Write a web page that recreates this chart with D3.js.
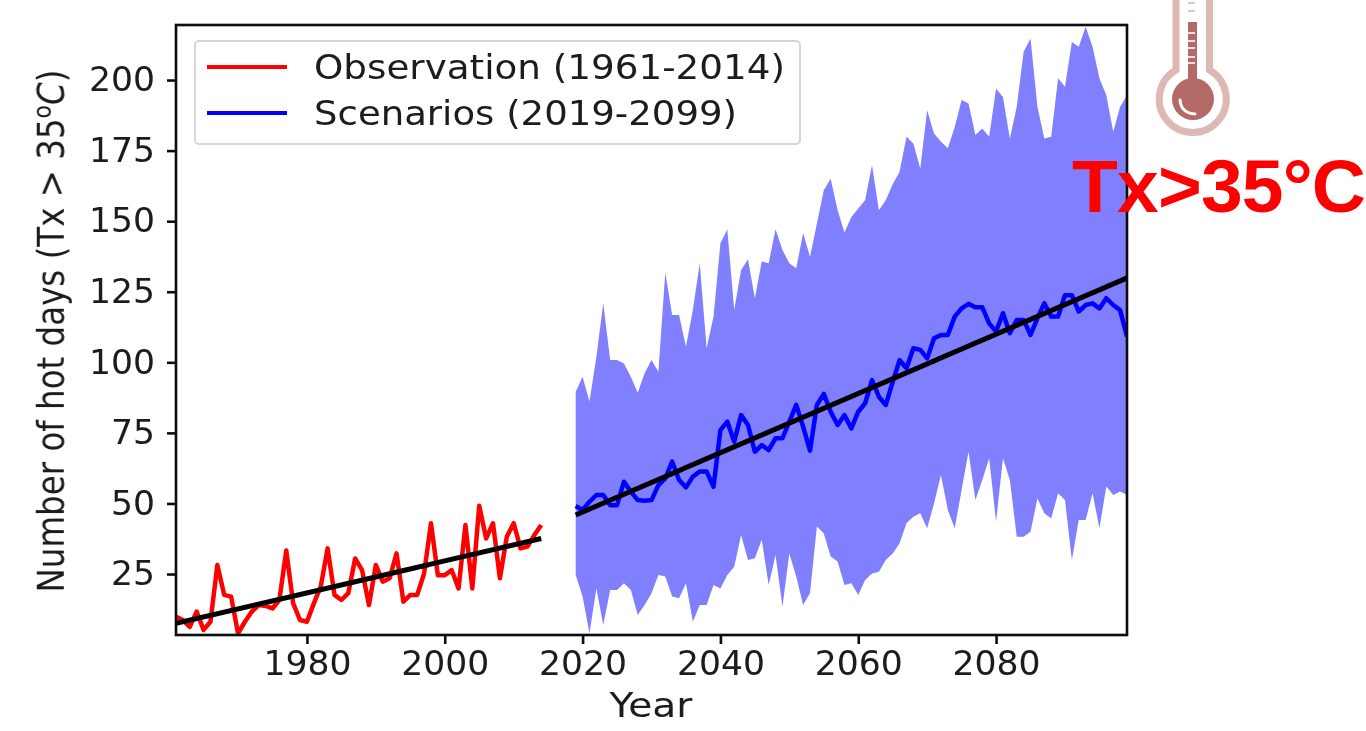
<!DOCTYPE html>
<html>
<head>
<meta charset="utf-8">
<script src="https://d3js.org/d3.v7.min.js"></script>
<style>
  html, body { margin: 0; padding: 0; background: #fff; overflow: hidden; }
  text { font-family: "DejaVu Sans", sans-serif; fill: #1a1a1a; }
</style>
</head>
<body>
<script>
// values, one per year
var obs_years = d3.range(1961, 2015);
var obs_values = [9.9,8.7,6.3,11.7,5.2,8.1,28.2,17.6,17,4,8.1,11.7,14,13.7,12.8,15.8,33.3,14.6,8.7,8.1,
  14.6,20.5,34.1,17.6,15.8,18.2,30.5,26.4,14,28.2,22.3,23.5,32.3,15.2,17.6,17.6,25.2,43,24.6,24.6,
  26.4,19.9,42.4,19.9,49.2,37.6,43,23.5,38.2,43,34.1,34.7,38.8,42.4];
var obs_trend_years = [1961, 2014];
var obs_trend_values = [7.5, 37.6];

var scen_years = d3.range(2019, 2100);
var scen_mean = [49.1,47.7,50.6,53,53,49.4,49.4,57.7,54.2,51.2,51,51.2,56.5,58.9,64.8,58.3,55.7,59.5,61.3,61.3,
  55.9,76,79,71.9,81.3,77.8,68.3,70.7,68.9,73.1,73.1,79,84.9,77.2,68.7,84.9,88.8,82.5,77.8,81.3,
  76.6,82.5,85.5,93.7,87.8,84.9,93.1,100.8,97.9,105,104.4,101.4,108.5,109.7,109.7,116.2,119.1,120.7,119.5,119.5,
  113.8,110.9,117.4,110.3,115,115,109.7,115.6,120.9,116.2,116.2,123.8,123.8,118,120.3,120.9,119.1,122.7,120.3,118.5,109.1];
var scen_upper = [89.6,94.9,86.1,102,120.9,100.8,100.8,99.6,94.9,89.2,96.1,100.8,96.7,131.8,116.8,116.8,105.5,118.5,135.1,105,
  116.2,142.2,147.1,118.5,132.7,136.5,122.7,135.7,135.1,147.1,139.8,135.1,133.3,145.7,137.4,149.2,161,165,154,146,
  151.5,154.5,157.5,169.9,153.9,157.5,163.1,167.5,179.9,177.5,168.7,189.3,181.1,178.1,175.8,183.4,192.9,191.7,180.5,182.8,
  179.9,197,194,179.3,190.5,210,214.7,190.5,179.3,179.9,200.6,197.6,213.5,211.8,218.9,211.8,200.6,194.6,181.7,190.5,194.6];
var scen_lower = [24.7,17,4,19.9,6.9,19.3,19.3,21.7,19.3,10.5,14,18.2,24.7,24.1,17,16.4,21.7,8.1,14,14,
  21.1,19.9,24.7,27.6,38.8,30,30.6,37.1,21.1,31.7,13.4,32.3,24.1,14,18.2,41.8,39.4,31.2,29.4,21.1,
  21.7,17.6,22.9,25.2,25.8,30,32.3,35.9,43,45.3,46.5,41.2,50,60.1,47.7,41.2,54.8,68.3,51.2,58.3,
  66,43.5,66,58.3,38.2,38.2,40,51.8,46.5,44.7,53.6,51.2,30,44.1,44.1,53.6,41.2,56,53,54.2,53];
var scen_trend_years = [2019, 2099];
var scen_trend_values = [45.9, 129.9];

var x_ticks = [1980, 2000, 2020, 2040, 2060, 2080];
var y_ticks = [25, 50, 75, 100, 125, 150, 175, 200];
var legend_labels = ['Observation (1961-2014)', 'Scenarios (2019-2099)'];
var legend_widths = [471, 423];
var legend_colors = ['#ff0000', '#0000ff'];

var svg = d3.select('body').append('svg')
    .attr('width', 1366)
    .attr('height', 731)
    .style('display', 'block');

// the source is an upscaled bitmap, so the plot gets a slight softening
var defs = svg.append('defs');
defs.append('filter').attr('id', 'soft')
    .append('feGaussianBlur').attr('stdDeviation', 0.75);
defs.append('clipPath').attr('id', 'plot_clip')
    .append('rect').attr('x', 176).attr('y', 25).attr('width', 951).attr('height', 610);

var x = d3.scaleLinear().domain([1961, 2099]).range([176, 1127]);
var y = d3.scaleLinear().domain([3.4, 219.5]).range([635, 25]);

var chart = svg.append('g').attr('filter', 'url(#soft)');
var plot = chart.append('g').attr('clip-path', 'url(#plot_clip)');

var band = d3.area()
    .x(function(d, i) { return x(scen_years[i]); })
    .y0(function(d, i) { return y(scen_lower[i]); })
    .y1(function(d) { return y(d); });

plot.append('path')
    .attr('d', band(scen_upper))
    .attr('fill', '#8080ff');

function draw_line(xs, ys, color, width) {
  var line = d3.line()
      .x(function(d, i) { return x(xs[i]); })
      .y(function(d) { return y(d); });
  plot.append('path')
      .attr('d', line(ys))
      .attr('fill', 'none')
      .attr('stroke', color)
      .attr('stroke-width', width)
      .attr('stroke-linejoin', 'round');
}

draw_line(obs_years, obs_values, '#ff0000', 4.5);
draw_line(scen_years, scen_mean, '#0000ff', 4.5);
draw_line(obs_trend_years, obs_trend_values, '#000000', 5);
draw_line(scen_trend_years, scen_trend_values, '#000000', 5);

// frame
chart.append('rect')
    .attr('x', 176).attr('y', 25).attr('width', 951).attr('height', 610)
    .attr('fill', 'none')
    .attr('stroke', '#111')
    .attr('stroke-width', 2.6);

var x_axis = chart.append('g')
    .attr('transform', 'translate(0,635)')
    .call(d3.axisBottom(x).tickValues(x_ticks).tickFormat(d3.format('d')).tickSize(9).tickPadding(7));
var y_axis = chart.append('g')
    .attr('transform', 'translate(176,0)')
    .call(d3.axisLeft(y).tickValues(y_ticks).tickFormat(d3.format('d')).tickSize(9).tickPadding(12));

// the picture is stretched sideways, so tick labels are set to the widths measured on it
[x_axis, y_axis].forEach(function(a) {
  a.select('.domain').remove();
  a.selectAll('line').attr('stroke', '#111').attr('stroke-width', 2.6);
  a.selectAll('text')
      .style('font-size', '33.5px')
      .attr('fill', '#1a1a1a')
      .attr('lengthAdjust', 'spacingAndGlyphs')
      .attr('textLength', function(d) { return String(d).length * 22; });
});

chart.append('text')
    .attr('x', 651)
    .attr('y', 717)
    .attr('text-anchor', 'middle')
    .attr('lengthAdjust', 'spacingAndGlyphs')
    .attr('textLength', 83)
    .style('font-size', '33.5px')
    .text('Year');

var y_label = chart.append('text')
    .attr('transform', 'translate(64,331) scale(1.12,1) rotate(-90)')
    .attr('text-anchor', 'middle')
    .style('font-size', '32.5px');
y_label.append('tspan').text('Number of hot days (Tx > 35');
y_label.append('tspan').attr('dy', -12).style('font-size', '22px').text('o');
y_label.append('tspan').attr('dy', 12).style('font-style', 'italic').text('C');
y_label.append('tspan').text(')');

// legend
chart.append('rect')
    .attr('x', 195).attr('y', 41).attr('width', 605).attr('height', 103).attr('rx', 4)
    .attr('fill', '#fff')
    .attr('stroke', '#d5d5d5')
    .attr('stroke-width', 2);

legend_labels.forEach(function(label, i) {
  var ly = 67 + i * 46;
  chart.append('line')
      .attr('x1', 207).attr('x2', 287)
      .attr('y1', ly).attr('y2', ly)
      .attr('stroke', legend_colors[i])
      .attr('stroke-width', 4);
  chart.append('text')
      .attr('x', 314)
      .attr('y', ly + 12)
      .attr('lengthAdjust', 'spacingAndGlyphs')
      .attr('textLength', legend_widths[i])
      .style('font-size', '33.5px')
      .text(label);
});

// thermometer icon, cut by the top of the page
var ring = '#deb8b4';
var dark = '#b36a66';
var icon = svg.append('g').attr('filter', 'url(#soft)');
icon.append('path')
    .attr('d', 'M1176,-5 V70 A33.5,33.5 0 1 0 1209.5,70 V-5')
    .attr('fill', '#fff')
    .attr('stroke', ring)
    .attr('stroke-width', 7);
icon.append('rect').attr('x', 1188).attr('y', 22).attr('width', 9).attr('height', 60).attr('fill', dark);
icon.append('circle').attr('cx', 1193).attr('cy', 99).attr('r', 21).attr('fill', dark);
icon.append('path')
    .attr('d', 'M1180,100 Q1181,113 1195,114')
    .attr('fill', 'none')
    .attr('stroke', '#fff')
    .attr('stroke-width', 3)
    .attr('stroke-linecap', 'round');
[3, 11, 33, 41, 48, 57, 63].forEach(function(ty) {
  icon.append('line')
      .attr('x1', 1188).attr('x2', 1195)
      .attr('y1', ty).attr('y2', ty)
      .attr('stroke', ty < 22 ? ring : '#fff')
      .attr('stroke-width', 1.6);
});

svg.append('text')
    .attr('x', 1072)
    .attr('y', 212)
    .attr('lengthAdjust', 'spacing')
    .attr('textLength', 294)
    .style('font-family', '"Liberation Sans", Arial, sans-serif')
    .style('font-weight', 'bold')
    .style('font-size', '75px')
    .style('fill', '#ff0000')
    .text('Tx>35°C');
</script>
</body>
</html>
